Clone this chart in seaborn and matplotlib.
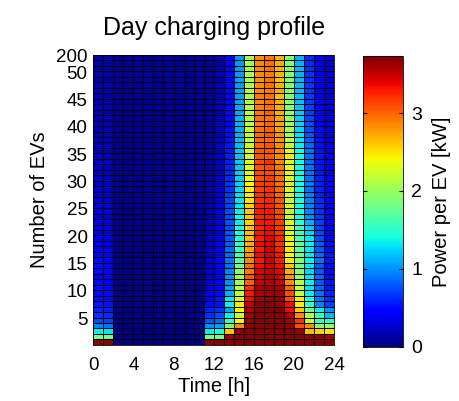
import numpy as np
import pandas as pd
import matplotlib
matplotlib.use('Agg')
import matplotlib.pyplot as plt
import seaborn as sns

# hours of the day (one column per hour)
hours = list(range(24))
# number of EVs per row, bottom row first
n_evs = list(range(1, 51)) + [100, 150, 200]
ytick_evs = [5, 10, 15, 20, 25, 30, 35, 40, 45, 50, 200]
xtick_hours = [0, 4, 8, 12, 16, 20, 24]

# power per EV [kW], rows = number of EVs (bottom first), cols = hour 0..23
power_kw = [
    [3.70, 3.70, .01, .01, .02, .01, .01, .02, .01, .01, .02, 3.70, 3.70, 3.70, 3.70, 3.70, 3.70, 3.70, 3.70, 3.70, 3.70, 3.70, 3.70, 3.70],
    [1.85, 1.80, .01, .02, .01, .01, .02, .01, .01, .02, .01, 1.85, 1.85, 3.65, 3.70, 3.70, 3.70, 3.70, 3.70, 3.70, 3.70, 3.65, 3.65, 3.60],
    [1.35, 1.30, .02, .02, .02, .02, .02, .02, .02, .02, .02, 1.35, 1.40, 2.60, 3.70, 3.70, 3.70, 3.70, 3.70, 3.70, 3.65, 2.65, 2.55, 2.50],
    [0.95, 0.90, .02, .02, .03, .02, .02, .03, .02, .02, .03, 1.00, 1.05, 1.85, 2.85, 3.70, 3.70, 3.70, 3.70, 3.65, 3.10, 2.85, 1.90, 1.95],
    [0.75, 0.72, .02, .02, .03, .02, .02, .03, .02, .02, .03, 0.80, 0.85, 1.55, 2.40, 3.65, 3.70, 3.70, 3.70, 3.60, 3.20, 2.20, 1.55, 1.50],
    [0.65, 0.62, .02, .03, .03, .02, .03, .03, .02, .03, .03, 0.65, 0.75, 1.35, 2.20, 3.60, 3.70, 3.70, 3.70, 3.55, 2.85, 2.10, 1.55, 1.15],
    [0.60, 0.58, .03, .03, .03, .03, .03, .03, .03, .03, .03, 0.60, 0.65, 1.05, 2.40, 3.55, 3.70, 3.70, 3.70, 3.35, 2.60, 1.80, 1.35, 1.00],
    [0.55, 0.55, .03, .03, .03, .03, .03, .03, .03, .03, .04, 0.50, 0.55, 1.35, 2.45, 3.50, 3.70, 3.70, 3.65, 3.35, 2.45, 1.55, 0.95, 0.70],
    [0.52, 0.50, .03, .03, .04, .03, .03, .04, .03, .03, .04, 0.45, 0.55, 1.30, 2.20, 3.35, 3.60, 3.65, 3.65, 3.10, 2.45, 1.40, 0.90, 0.65],
    [0.50, 0.50, .03, .03, .04, .03, .03, .04, .03, .03, .04, 0.38, 0.50, 1.10, 2.15, 3.30, 3.55, 3.60, 3.60, 3.10, 2.20, 1.35, 0.90, 0.60],
    [0.52, 0.48, .03, .04, .04, .03, .04, .04, .03, .04, .04, 0.32, 0.48, 1.05, 2.10, 3.20, 3.55, 3.60, 3.55, 3.00, 2.20, 1.30, 0.85, 0.55],
    [0.50, 0.46, .03, .04, .04, .03, .04, .04, .03, .04, .04, 0.30, 0.45, 1.00, 2.00, 3.00, 3.50, 3.55, 3.50, 2.85, 2.10, 1.35, 0.80, 0.55],
    [0.48, 0.47, .04, .04, .04, .04, .04, .04, .04, .04, .04, 0.28, 0.45, 1.00, 2.05, 3.05, 3.45, 3.55, 3.45, 2.80, 2.00, 1.30, 0.85, 0.50],
    [0.50, 0.45, .04, .04, .04, .04, .04, .04, .04, .04, .05, 0.27, 0.44, 0.95, 1.95, 2.90, 3.40, 3.50, 3.40, 2.70, 1.90, 1.25, 0.80, 0.50],
    [0.52, 0.46, .04, .04, .05, .04, .04, .05, .04, .04, .05, 0.26, 0.42, 0.90, 1.80, 2.95, 3.35, 3.45, 3.35, 2.60, 1.85, 1.30, 0.80, 0.50],
    [0.50, 0.44, .04, .04, .05, .04, .04, .05, .04, .04, .05, 0.25, 0.40, 0.90, 1.65, 2.85, 3.30, 3.50, 3.30, 2.45, 1.85, 1.35, 0.90, 0.55],
    [0.47, 0.42, .04, .04, .05, .04, .04, .05, .04, .04, .05, 0.24, 0.40, 0.85, 1.60, 2.80, 3.35, 3.45, 3.30, 2.40, 1.80, 1.30, 0.85, 0.55],
    [0.42, 0.39, .04, .05, .05, .04, .05, .05, .04, .05, .05, 0.23, 0.38, 0.85, 1.55, 2.75, 3.30, 3.45, 3.25, 2.45, 1.75, 1.30, 0.80, 0.50],
    [0.40, 0.37, .04, .05, .05, .04, .05, .05, .04, .05, .05, 0.22, 0.38, 0.80, 1.50, 2.70, 3.35, 3.40, 3.20, 2.40, 1.70, 1.35, 0.80, 0.50],
    [0.40, 0.36, .05, .05, .05, .05, .05, .05, .05, .05, .05, 0.21, 0.37, 0.80, 1.45, 2.65, 3.30, 3.40, 3.25, 2.35, 1.65, 1.30, 0.75, 0.48],
    [0.36, 0.34, .05, .05, .05, .05, .05, .05, .05, .05, .06, 0.20, 0.35, 0.80, 1.40, 2.65, 3.30, 3.35, 3.20, 2.30, 1.60, 1.25, 0.75, 0.48],
    [0.34, 0.32, .05, .05, .06, .05, .05, .06, .05, .05, .06, 0.19, 0.35, 0.75, 1.40, 2.60, 3.25, 3.35, 3.15, 2.30, 1.55, 1.20, 0.70, 0.45],
    [0.35, 0.32, .05, .05, .06, .05, .05, .06, .05, .05, .06, 0.18, 0.34, 0.78, 1.35, 2.55, 3.30, 3.30, 3.15, 2.25, 1.50, 1.10, 0.70, 0.45],
    [0.32, 0.30, .05, .05, .06, .05, .05, .06, .05, .05, .06, 0.17, 0.33, 0.75, 1.40, 2.60, 3.25, 3.30, 3.10, 2.20, 1.45, 1.00, 0.68, 0.45],
    [0.30, 0.28, .05, .05, .06, .05, .05, .06, .05, .05, .06, 0.16, 0.32, 0.75, 1.35, 2.60, 3.30, 3.30, 3.10, 2.20, 1.40, 0.95, 0.65, 0.45],
    [0.30, 0.27, .05, .06, .06, .05, .06, .06, .05, .06, .06, 0.15, 0.31, 0.70, 1.30, 2.55, 3.25, 3.25, 3.05, 2.25, 1.40, 0.95, 0.65, 0.42],
    [0.28, 0.26, .05, .06, .06, .05, .06, .06, .05, .06, .06, 0.14, 0.30, 0.70, 1.30, 2.50, 3.20, 3.25, 3.05, 2.20, 1.45, 0.95, 0.62, 0.42],
    [0.28, 0.25, .06, .06, .06, .06, .06, .06, .06, .06, .06, 0.13, 0.29, 0.68, 1.28, 2.45, 3.20, 3.20, 3.00, 2.25, 1.40, 0.92, 0.60, 0.40],
    [0.26, 0.24, .06, .06, .06, .06, .06, .06, .06, .06, .07, 0.12, 0.28, 0.65, 1.25, 2.45, 3.15, 3.20, 3.00, 2.30, 1.40, 0.90, 0.60, 0.40],
    [0.26, 0.24, .06, .06, .06, .06, .06, .06, .06, .06, .07, 0.12, 0.27, 0.65, 1.25, 2.40, 3.15, 3.15, 2.95, 2.25, 1.42, 0.92, 0.58, 0.38],
    [0.24, 0.22, .06, .06, .07, .06, .06, .07, .06, .06, .07, 0.11, 0.26, 0.62, 1.22, 2.35, 3.10, 3.15, 2.95, 2.30, 1.40, 0.90, 0.58, 0.38],
    [0.23, 0.21, .06, .06, .07, .06, .06, .07, .06, .06, .07, 0.11, 0.25, 0.60, 1.22, 2.30, 3.10, 3.10, 2.90, 2.30, 1.38, 0.88, 0.56, 0.37],
    [0.24, 0.21, .06, .06, .07, .06, .06, .07, .06, .06, .07, 0.10, 0.24, 0.60, 1.20, 2.30, 3.05, 3.10, 2.90, 2.35, 1.40, 0.90, 0.55, 0.36],
    [0.22, 0.20, .06, .07, .07, .06, .07, .07, .06, .07, .07, 0.10, 0.24, 0.58, 1.20, 2.25, 3.10, 3.20, 2.85, 2.25, 1.40, 0.85, 0.55, 0.35],
    [0.22, 0.20, .06, .07, .07, .06, .07, .07, .06, .07, .07, 0.10, 0.23, 0.57, 1.18, 2.25, 3.05, 3.05, 2.85, 2.45, 1.42, 0.88, 0.55, 0.35],
    [0.21, 0.19, .06, .07, .07, .06, .07, .07, .06, .07, .07, 0.09, 0.23, 0.55, 1.20, 2.20, 3.05, 3.05, 2.85, 2.30, 1.40, 0.90, 0.55, 0.35],
    [0.21, 0.19, .07, .07, .07, .07, .07, .07, .07, .07, .08, 0.09, 0.22, 0.55, 1.15, 2.20, 3.00, 3.05, 2.85, 2.20, 1.35, 0.85, 0.52, 0.34],
    [0.20, 0.18, .07, .07, .07, .07, .07, .07, .07, .07, .08, 0.09, 0.22, 0.52, 1.15, 2.15, 3.00, 3.00, 2.80, 2.15, 1.30, 0.80, 0.52, 0.33],
    [0.20, 0.18, .07, .07, .07, .07, .07, .07, .07, .07, .08, 0.09, 0.21, 0.50, 1.12, 2.15, 2.95, 3.05, 2.80, 2.05, 1.30, 0.78, 0.50, 0.33],
    [0.19, 0.17, .07, .07, .08, .07, .07, .08, .07, .07, .08, 0.09, 0.21, 0.50, 1.10, 2.20, 2.95, 3.00, 2.75, 2.05, 1.25, 0.75, 0.50, 0.32],
    [0.20, 0.17, .07, .07, .08, .07, .07, .08, .07, .07, .08, 0.08, 0.21, 0.48, 1.12, 2.15, 2.90, 3.00, 2.75, 2.00, 1.25, 0.75, 0.48, 0.32],
    [0.18, 0.17, .07, .07, .08, .07, .07, .08, .07, .07, .08, 0.08, 0.20, 0.48, 1.10, 2.10, 2.95, 2.95, 2.75, 1.95, 1.22, 0.72, 0.48, 0.31],
    [0.18, 0.16, .07, .08, .08, .07, .08, .08, .07, .08, .08, 0.08, 0.20, 0.47, 1.08, 2.15, 2.90, 3.00, 2.70, 1.95, 1.20, 0.70, 0.47, 0.31],
    [0.19, 0.16, .07, .08, .08, .07, .08, .08, .07, .08, .08, 0.08, 0.20, 0.47, 1.08, 2.10, 2.90, 2.95, 2.70, 1.90, 1.20, 0.70, 0.46, 0.30],
    [0.17, 0.16, .08, .08, .08, .08, .08, .08, .08, .08, .08, 0.08, 0.19, 0.46, 1.05, 2.10, 2.85, 2.95, 2.70, 1.92, 1.18, 0.68, 0.46, 0.30],
    [0.17, 0.15, .08, .08, .08, .08, .08, .08, .08, .08, .08, 0.08, 0.19, 0.46, 1.05, 2.05, 2.90, 2.95, 2.65, 1.90, 1.18, 0.68, 0.45, 0.30],
    [0.18, 0.15, .08, .08, .08, .08, .08, .08, .08, .08, .09, 0.07, 0.19, 0.45, 1.05, 2.10, 2.85, 2.90, 2.70, 1.88, 1.15, 0.66, 0.45, 0.29],
    [0.16, 0.15, .08, .08, .08, .08, .08, .08, .08, .08, .09, 0.07, 0.18, 0.45, 1.02, 2.08, 2.85, 2.95, 2.70, 1.90, 1.15, 0.66, 0.44, 0.29],
    [0.16, 0.14, .08, .08, .08, .08, .08, .08, .08, .08, .09, 0.07, 0.18, 0.45, 1.05, 2.05, 2.80, 2.95, 2.65, 1.90, 1.15, 0.65, 0.44, 0.29],
    [0.17, 0.14, .08, .08, .09, .08, .08, .09, .08, .08, .09, 0.07, 0.18, 0.44, 1.02, 2.10, 2.85, 2.90, 2.70, 1.88, 1.12, 0.65, 0.44, 0.28],
    [0.16, 0.14, .08, .08, .09, .08, .08, .09, .08, .08, .09, 0.07, 0.18, 0.44, 1.03, 2.08, 2.85, 2.95, 2.68, 1.88, 1.14, 0.65, 0.44, 0.28],
    [0.16, 0.14, .08, .08, .09, .08, .08, .09, .08, .08, .09, 0.07, 0.17, 0.45, 1.02, 2.05, 2.85, 2.95, 2.70, 1.90, 1.13, 0.64, 0.43, 0.28],
    [0.16, 0.14, .08, .08, .09, .08, .08, .09, .08, .08, .09, 0.07, 0.17, 0.44, 1.02, 2.06, 2.84, 2.94, 2.69, 1.89, 1.13, 0.64, 0.43, 0.28],
]

plt.rcParams['font.family'] = ['Liberation Sans', 'DejaVu Sans']

# top row = most EVs
df = pd.DataFrame(power_kw[::-1], index=n_evs[::-1], columns=hours)

fig = plt.figure(figsize=(4.59, 4.01), dpi=100)
ax = fig.add_axes([0.203, 0.140, 0.525, 0.723])
cax = fig.add_axes([0.791, 0.135, 0.087, 0.725])

sns.heatmap(df, ax=ax, cbar_ax=cax, cmap='jet', vmin=0, vmax=3.73,
            linewidths=0.6, linecolor='black',
            cbar_kws={'ticks': [0, 1, 2, 3]})

# x ticks on the hour edges
ax.set_xticks(xtick_hours)
ax.set_xticklabels([str(h) for h in xtick_hours], rotation=0)
nrows = len(n_evs)
ypos = [nrows - 1 - n_evs.index(v) + 0.5 for v in ytick_evs]
ax.set_yticks(ypos)
ax.set_yticklabels([str(v) for v in ytick_evs], rotation=0)
ax.tick_params(axis='both', length=0, labelsize=13.5)
ax.tick_params(axis='x', pad=9)
ax.tick_params(axis='y', pad=4)
for s in ax.spines.values():
    s.set_visible(True)
    s.set_linewidth(0.6)

ax.set_xlabel('Time [h]', fontsize=14.5, labelpad=2)
ax.set_ylabel('Number of EVs', fontsize=14.5, labelpad=5)
ax.set_title('Day charging profile', fontsize=18, pad=14)

cb = ax.collections[0].colorbar
cb.ax.tick_params(labelsize=14, length=3, direction='in', left=True, right=True, pad=6)
cb.outline.set_visible(True)
cb.outline.set_edgecolor('black')
cb.outline.set_linewidth(0.6)
cb.set_label('Power per EV [kW]', fontsize=14.5, labelpad=7)

fig.savefig('out.png', dpi=100)
